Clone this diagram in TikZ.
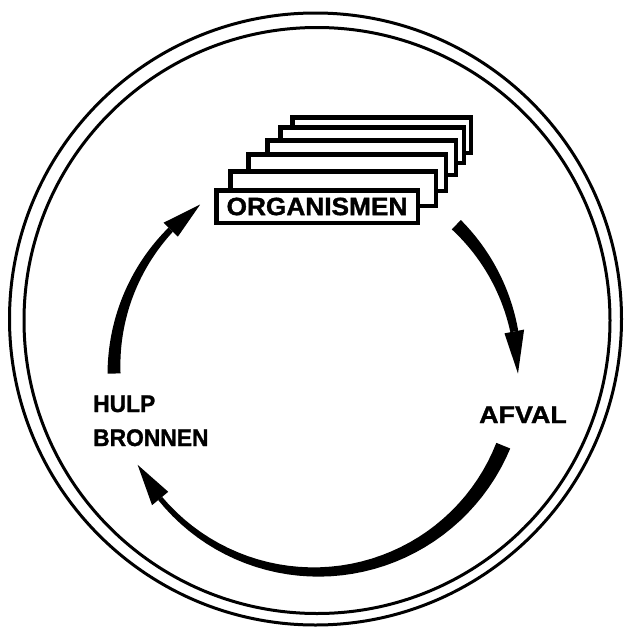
\documentclass[tikz,border=0pt]{standalone}
\usepackage{fontspec}
\newfontfamily\lblfont{Liberation Sans}[BoldFeatures={FakeBold=1.3}]
\tikzset{
  card/.style={draw, line width=4.5pt, fill=white, inner sep=0pt},
  rim/.style={draw, line width=3pt},
  word/.style={inner sep=0pt, font=\lblfont\bfseries\fontsize{24}{28}\selectfont},
}
% radius of the cycle on which the three arrows run
\newcommand\arcR{202}
% tapered arrow along the cycle:
% #1 tail angle, #2 angle where the head starts, #3 tip angle,
% #4 tail width, #5 width at the head, #6 half width of the head
\newcommand\cyclearrow[6]{%
  \fill plot[domain=#1:#2, samples=40]
      (\x:{\arcR+((#4)+((#5)-(#4))*(\x-(#1))/((#2)-(#1)))/2})
    -- plot[domain=#2:#1, samples=40]
      (\x:{\arcR-((#4)+((#5)-(#4))*(\x-(#1))/((#2)-(#1)))/2})
    -- cycle;
  \fill (#2:{\arcR+#6}) -- (#3:\arcR) -- (#2:{\arcR-#6}) -- cycle;
}
\begin{document}
\begin{tikzpicture}[x=1pt, y=1pt]
  \useasboundingbox (0,-627) rectangle (626,0);

  % double outer ring
  \draw[rim] (315.5,-319) circle (306);
  \draw[rim] (317,-320.5) circle (293);

  % stack of cards, back to front
  \node[card, minimum width=178.5, minimum height=35.5] (card6) at (381.5,-135) {};
  \node[card, minimum width=183.5, minimum height=35.5] (card5) at (372,-145) {};
  \node[card, minimum width=188.5, minimum height=34.5] (card4) at (361.5,-157.5) {};
  \node[card, minimum width=197.5, minimum height=36.5] (card3) at (347,-172.5) {};
  \node[card, minimum width=205.5, minimum height=34.5] (card2) at (333,-188.5) {};
  \node[card, minimum width=201.5, minimum height=32.5] (card1) at (317,-206.5) {};
  \node[word, font=\lblfont\bfseries\fontsize{25}{30}\selectfont] (org) at (card1.center)
    {\scalebox{1.05}[1]{ORGANISMEN}};

  % labels
  \node[word, anchor=base west] (afval) at (479,-423) {\scalebox{1.12}[1]{AFVAL}};
  \node[word, anchor=base west] (hulp) at (93,-412) {\scalebox{0.95}[1]{HULP}};
  \node[word, anchor=base west] (bronnen) at (93,-446) {\scalebox{0.95}[1]{BRONNEN}};

  % cycle arrows
  \coordinate (hub) at (316,-370);
  \begin{scope}[shift={(hub)}]
    \cyclearrow{46}{11}{-1}{13}{8}{10}
    \cyclearrow{-22}{-140.5}{-152}{15}{5}{10.5}
    \cyclearrow{181}{136}{125}{13}{6}{10}
  \end{scope}
\end{tikzpicture}
\end{document}
